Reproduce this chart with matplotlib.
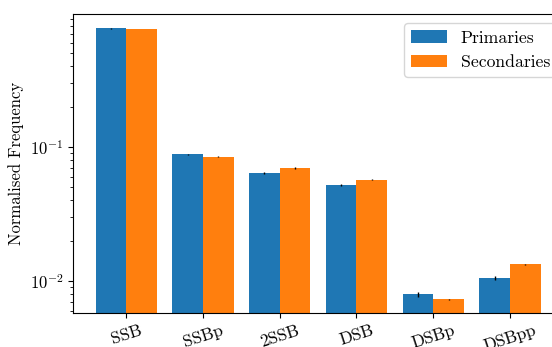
import numpy as np
import matplotlib
matplotlib.use("Agg")
import matplotlib.pyplot as plt

plt.rcParams['font.family'] = ['cmr10', 'DejaVu Serif']
plt.rcParams['mathtext.fontset'] = 'cm'
plt.rcParams['axes.formatter.use_mathtext'] = True
plt.rcParams['axes.unicode_minus'] = False
plt.rcParams['font.size'] = 12

categories = ['SSB', 'SSBp', '2SSB', 'DSB', 'DSBp', 'DSBpp']
primaries = [0.769, 0.0882, 0.0637, 0.0520, 0.00796, 0.0105]
secondaries = [0.757, 0.0847, 0.0697, 0.0570, 0.0073, 0.0133]
primaries_err = [0.004, 0.0012, 0.0009, 0.0008, 0.0003, 0.00037]
secondaries_err = [0.003, 0.0008, 0.0007, 0.0006, 0.0001, 0.0002]

fig = plt.figure(figsize=(5.52, 3.47), dpi=100)
ax = fig.add_axes([0.1328, 0.098, 0.887, 0.8617])

x = np.arange(len(categories))
w = 0.4
ax.bar(x - w / 2, primaries, w, yerr=primaries_err, color='tab:blue',
       label='Primaries', error_kw=dict(elinewidth=1, ecolor='black'))
ax.bar(x + w / 2, secondaries, w, yerr=secondaries_err, color='tab:orange',
       label='Secondaries', error_kw=dict(elinewidth=1, ecolor='black'))

ax.set_yscale('log')
ax.set_ylim(0.00577, 0.983)
ax.set_xticks(x)
ax.set_xticklabels(categories, rotation=18, fontsize=12.5)
ax.set_ylabel('Normalised Frequency')

ax.legend(loc='upper left', bbox_to_anchor=(404.3 / 552, 1 - 23.3 / 347),
          bbox_transform=fig.transFigure, borderaxespad=0, fontsize=12.7)

fig.savefig('out.png', dpi=100)
